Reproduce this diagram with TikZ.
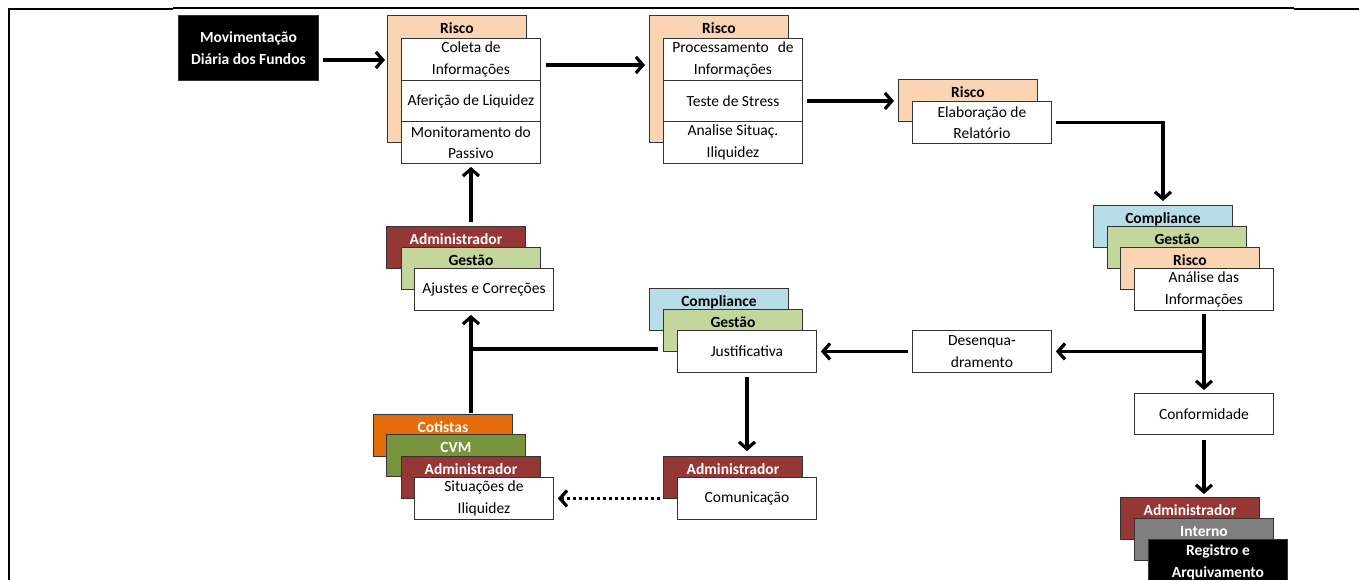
\documentclass[tikz,border=0pt]{standalone}
\usepackage{fontspec}
\setmainfont{Carlito}
\usetikzlibrary{arrows.meta}
\definecolor{peach}{HTML}{FBD4B4}
\definecolor{lblue}{HTML}{B7DEE8}
\definecolor{lgreen}{HTML}{C3D69B}
\definecolor{dred}{HTML}{953735}
\definecolor{orng}{HTML}{E46C0A}
\definecolor{olive}{HTML}{77933C}
\definecolor{midgray}{HTML}{7F7F7F}
\begin{document}
\begin{tikzpicture}[x=1pt,y=-1pt,
  every node/.style={font=\fontsize{15.5}{21.5}\selectfont},
  box/.style={draw=black!80, line width=0.9pt, fill=white, anchor=north west, inner sep=0pt, minimum width=139pt, minimum height=42pt, align=center},
  hdr/.style={draw=black!80, line width=0.9pt, anchor=north west, inner sep=0pt, minimum width=139pt, text height=18pt, text depth=24pt, font=\fontsize{15.5}{21.5}\selectfont\bfseries},
  tall/.style={text depth=109pt},
  arr/.style={line width=3.2pt, -{Straight Barb[length=7pt,width=16pt]}},
  plain/.style={line width=3.2pt},
  frame/.style={line width=2.6pt},
]
\useasboundingbox (0,0) rectangle (1359,580);
\clip (0,0) rectangle (1359,580);
% frame
\draw[frame] (9,580) -- (9,9) -- (173,9);
\draw[line width=1.4pt] (173,8) -- (1294,8);
\draw[frame] (1294,9) -- (1359,9);

% start
\node[box, fill=black, text=white, font=\fontsize{15.5}{21.5}\selectfont\bfseries, minimum width=140pt, minimum height=65pt] (mov) at (178,15) {Movimentação\\Diária dos Fundos};

% group 1
\node[hdr, tall, fill=peach] (r1h) at (387,15) {Risco};
\node[box] (r1a) at (401,38) {Coleta de\\Informações};
\node[box, minimum height=41pt] (r1b) at (401,80) {Aferição de Liquidez};
\node[box] (r1c) at (401,121) {Monitoramento do\\Passivo};

% group 2
\node[hdr, tall, fill=peach] (r2h) at (649,15) {Risco};
\node[box] (r2a) at (663,38) {Processamento\hspace{9pt}de\\Informações};
\node[box, minimum height=41pt] (r2b) at (663,80) {Teste de Stress};
\node[box] (r2c) at (663,121) {Analise Situaç.\\Iliquidez};

% group 3
\node[hdr, fill=peach] (r3h) at (898,79) {Risco};
\node[box] (r3a) at (912,101) {Elaboração de\\Relatório};

% group 4
\node[hdr, fill=lblue] (c4) at (1093,205) {Compliance};
\node[hdr, fill=lgreen] (g4) at (1107,226) {Gestão};
\node[hdr, fill=peach] (r4) at (1120,247) {Risco};
\node[box] (ana) at (1134,268) {Análise das\\Informações};

% desenquadramento / conformidade
\node[box] (des) at (912,330) {Desenqua-\\dramento};
\node[box, minimum height=41pt] (conf) at (1134,393) {Conformidade};

% group 5
\node[hdr, fill=dred, text=white] (adm5) at (1120,497) {Administrador};
\node[hdr, fill=midgray, text=white] (int5) at (1134,518) {Interno};
\node[box, fill=black, text=white, font=\fontsize{15.5}{21.5}\selectfont\bfseries, minimum height=46pt] (reg5) at (1148,539) {Registro e\\Arquivamento};

% justificativa group
\node[hdr, fill=lblue] (cj) at (649,288) {Compliance};
\node[hdr, fill=lgreen] (gj) at (663,309) {Gestão};
\node[box] (just) at (677,330) {Justificativa};

% ajustes group
\node[hdr, fill=dred, text=white] (adma) at (386,226) {Administrador};
\node[hdr, fill=lgreen] (gesa) at (401,247) {Gestão};
\node[box] (aju) at (414,268) {Ajustes e Correções};

% cotistas group
\node[hdr, fill=orng, text=white] (cot) at (373,414) {Cotistas};
\node[hdr, fill=olive, text=white] (cvm) at (386,434) {CVM};
\node[hdr, fill=dred, text=white] (admc) at (401,456) {Administrador};
\node[box] (sit) at (414,477) {Situações de\\Iliquidez};

% comunicacao group
\node[hdr, fill=dred, text=white] (admk) at (663,456) {Administrador};
\node[box] (com) at (677,477) {Comunicação};

% connectors
\draw[arr, shorten <=4pt, shorten >=2pt] (mov.east |- 0,60) -- (r1h.west |- 0,60);
\draw[arr, shorten <=5pt, shorten >=4pt] (r1a.east |- 0,65) -- (r2h.west |- 0,65);
\draw[arr, shorten <=4pt, shorten >=4pt] (r2b.east) -- (r3h.west |- r2b.east);
\draw[arr, shorten <=4pt, shorten >=4pt] (r3a.east) -| (c4.north);
\draw[arr, shorten <=3pt, shorten >=3pt] (ana.south) -- (ana.south |- conf.north);
\draw[arr, shorten >=4pt] (ana.south |- des.east) -- (des.east);
\draw[arr, shorten <=5pt, shorten >=3pt] (conf.south) -- (conf.south |- adm5.north);
\draw[arr, shorten <=4pt, shorten >=4pt] (des.west) -- (just.east);
\coordinate (jl) at ([xshift=-5pt]gj.west |- 0,349);
\draw[arr, shorten >=4pt] (jl) -| (gesa.center |- aju.south);
\draw[plain] ([yshift=1pt]admc.center |- cot.north) -- (admc.center |- jl);
\draw[arr, shorten >=3pt] ([yshift=4pt]gesa.center |- adma.north) -- (gesa.center |- r1c.south);
\draw[arr, shorten <=4pt, shorten >=5pt] (just.south) -- (just.south |- admk.north);
\draw[arr, dash pattern=on 3pt off 3pt, shorten <=3pt, shorten >=4pt] (com.west -| admk.west) -- (sit.east);
\end{tikzpicture}
\end{document}
